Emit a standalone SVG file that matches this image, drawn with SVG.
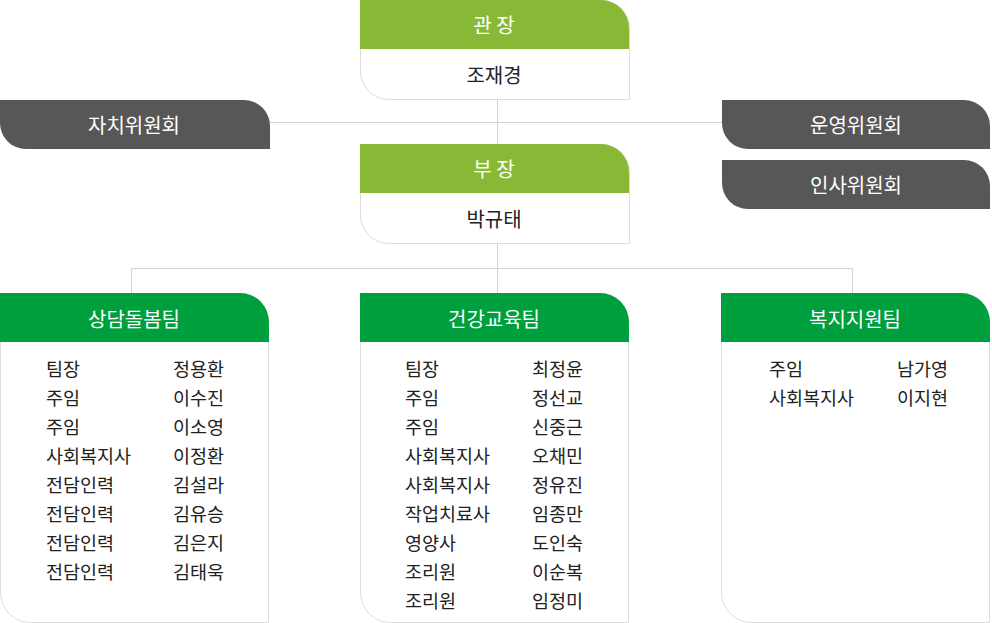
<svg xmlns="http://www.w3.org/2000/svg" width="992" height="623" viewBox="0 0 992 623">
<style>
text{font-family:"Noto Sans CJK KR","Noto Sans",sans-serif;}
.body{fill:#fff;stroke:#dcdcdc;stroke-width:1;}
.hl{fill:#87b937;}
.ht{fill:#009f3e;}
.cm{fill:#575757;}
.wt{fill:#fff;font-size:20px;text-anchor:middle;dominant-baseline:central;}
.nm{fill:#222;font-size:20px;text-anchor:middle;dominant-baseline:central;}
.it{fill:#222;font-size:18.5px;dominant-baseline:central;}
.ln{stroke:#d2d2d2;stroke-width:1;fill:none;}
</style>
<g id="connectors">
<path class="ln" d="M270 122.5H722"/>
<path class="ln" d="M497.5 99V144"/>
<path class="ln" d="M497.5 243V293"/>
<path class="ln" d="M131.5 293V268.5H852.5V293"/>
</g>
<g id="director">
<path class="body" d="M360.5 0.5H601.5A28 28 0 0 1 629.5 28.5V99.5H388.5A28 28 0 0 1 360.5 71.5Z"/>
<path class="hl" d="M360 0H601A28 28 0 0 1 629 28V49H360Z"/>
<text class="wt" x="494" y="24">관 장</text>
<text class="nm" x="494" y="74">조재경</text>
</g>
<g id="deputy">
<path class="body" d="M360.5 144.5H601.5A28 28 0 0 1 629.5 172.5V243.5H388.5A28 28 0 0 1 360.5 215.5Z"/>
<path class="hl" d="M360 144H601A28 28 0 0 1 629 172V193H360Z"/>
<text class="wt" x="494" y="168">부 장</text>
<text class="nm" x="494" y="218">박규태</text>
</g>
<g id="committee-self">
<path class="cm" d="M0 100H244A26 26 0 0 1 270 126V149H26A26 26 0 0 1 0 123Z"/>
<text class="wt" x="134" y="124">자치위원회</text>
</g>
<g id="committee-operation">
<path class="cm" d="M722 100H964A26 26 0 0 1 990 126V149H748A26 26 0 0 1 722 123Z"/>
<text class="wt" x="856" y="124">운영위원회</text>
</g>
<g id="committee-personnel">
<path class="cm" d="M722 160H964A26 26 0 0 1 990 186V209H748A26 26 0 0 1 722 183Z"/>
<text class="wt" x="856" y="184">인사위원회</text>
</g>
<g id="team-counsel">
<path class="body" d="M0.5 293.5H240.5A28 28 0 0 1 268.5 321.5V622.5H30.5A30 30 0 0 1 0.5 592.5Z"/>
<path class="ht" d="M0 293H240A29 29 0 0 1 269 322V342H0Z"/>
<text class="wt" x="134" y="318">상담돌봄팀</text>
<text class="it" x="46" y="368">팀장</text><text class="it" x="173" y="368">정용환</text>
<text class="it" x="46" y="397">주임</text><text class="it" x="173" y="397">이수진</text>
<text class="it" x="46" y="426">주임</text><text class="it" x="173" y="426">이소영</text>
<text class="it" x="46" y="455">사회복지사</text><text class="it" x="173" y="455">이정환</text>
<text class="it" x="46" y="484">전담인력</text><text class="it" x="173" y="484">김설라</text>
<text class="it" x="46" y="513">전담인력</text><text class="it" x="173" y="513">김유승</text>
<text class="it" x="46" y="542">전담인력</text><text class="it" x="173" y="542">김은지</text>
<text class="it" x="46" y="571">전담인력</text><text class="it" x="173" y="571">김태욱</text>
</g>
<g id="team-health">
<path class="body" d="M360.5 293.5H600.5A28 28 0 0 1 628.5 321.5V622.5H390.5A30 30 0 0 1 360.5 592.5Z"/>
<path class="ht" d="M360 293H600A29 29 0 0 1 629 322V342H360Z"/>
<text class="wt" x="494" y="318">건강교육팀</text>
<text class="it" x="405" y="368">팀장</text><text class="it" x="532" y="368">최정윤</text>
<text class="it" x="405" y="397">주임</text><text class="it" x="532" y="397">정선교</text>
<text class="it" x="405" y="426">주임</text><text class="it" x="532" y="426">신중근</text>
<text class="it" x="405" y="455">사회복지사</text><text class="it" x="532" y="455">오채민</text>
<text class="it" x="405" y="484">사회복지사</text><text class="it" x="532" y="484">정유진</text>
<text class="it" x="405" y="513">작업치료사</text><text class="it" x="532" y="513">임종만</text>
<text class="it" x="405" y="542">영양사</text><text class="it" x="532" y="542">도인숙</text>
<text class="it" x="405" y="571">조리원</text><text class="it" x="532" y="571">이순복</text>
<text class="it" x="405" y="600">조리원</text><text class="it" x="532" y="600">임정미</text>
</g>
<g id="team-welfare">
<path class="body" d="M721.5 293.5H961.5A28 28 0 0 1 989.5 321.5V622.5H751.5A30 30 0 0 1 721.5 592.5Z"/>
<path class="ht" d="M721 293H961A29 29 0 0 1 990 322V342H721Z"/>
<text class="wt" x="855" y="318">복지지원팀</text>
<text class="it" x="769" y="368">주임</text><text class="it" x="897" y="368">남가영</text>
<text class="it" x="769" y="397">사회복지사</text><text class="it" x="897" y="397">이지현</text>
</g>
</svg>
